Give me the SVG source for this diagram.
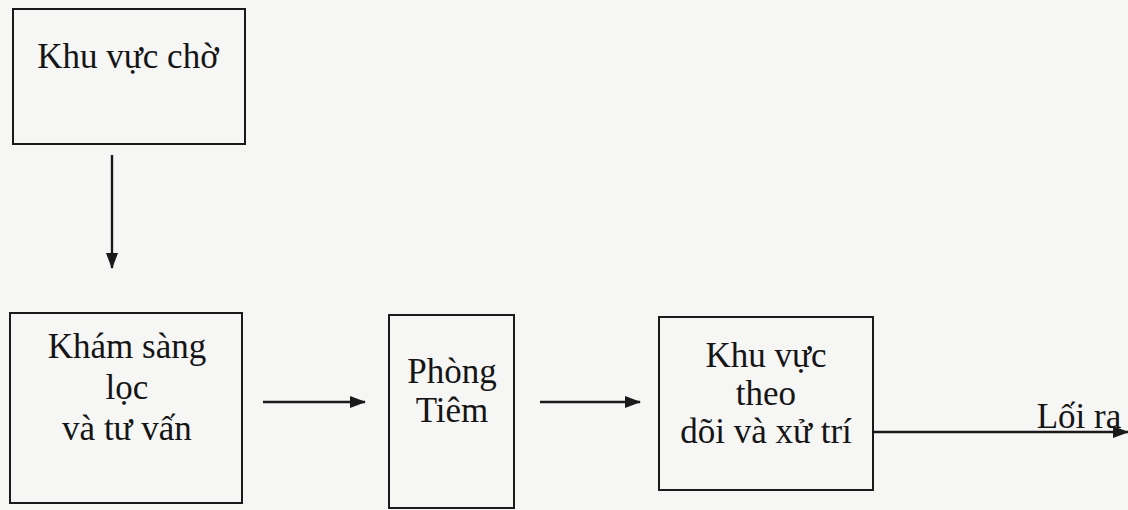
<svg xmlns="http://www.w3.org/2000/svg" width="1128" height="510" viewBox="0 0 1128 510">
<defs>
<style>
.box{fill:none;stroke:#1a1a1a;stroke-width:2}
.t{font-family:"Liberation Serif","Times New Roman",serif;font-size:35px;fill:#151515;text-anchor:middle}
.c{stroke:#1a1a1a;stroke-width:2.4;fill:none}
</style>
<marker id="ah" viewBox="0 0 16 12" refX="15" refY="6" markerWidth="16" markerHeight="12" markerUnits="userSpaceOnUse" orient="auto">
<path d="M0,0 L16,6 L0,12 z" fill="#1a1a1a"/>
</marker>
</defs>
<rect width="1128" height="510" fill="#f6f6f5"/>
<g id="khu-vuc-cho">
<rect class="box" x="13" y="9" width="232" height="135"/>
<text class="t" x="128" y="68">Khu vực chờ</text>
</g>
<g id="kham-sang-loc">
<rect class="box" x="10" y="313" width="232" height="190"/>
<text class="t" x="127" y="358">Khám sàng</text>
<text class="t" x="127" y="399">lọc</text>
<text class="t" x="127" y="440">và tư vấn</text>
</g>
<g id="phong-tiem">
<rect class="box" x="389" y="315" width="125" height="193"/>
<text class="t" x="452" y="383">Phòng</text>
<text class="t" x="452" y="422">Tiêm</text>
</g>
<g id="khu-vuc-theo-doi">
<rect class="box" x="659" y="317" width="214" height="173"/>
<text class="t" x="766" y="367">Khu vực</text>
<text class="t" x="766" y="405">theo</text>
<text class="t" x="766" y="443">dõi và xử trí</text>
</g>
<g id="loi-ra">
<text class="t" x="1079" y="428">Lối ra</text>
</g>
<g id="connectors">
<line class="c" x1="112" y1="155" x2="112" y2="268" marker-end="url(#ah)"/>
<line class="c" x1="263" y1="402" x2="365" y2="402" marker-end="url(#ah)"/>
<line class="c" x1="540" y1="402" x2="640" y2="402" marker-end="url(#ah)"/>
<line class="c" x1="873" y1="432" x2="1128" y2="432" marker-end="url(#ah)"/>
</g>
</svg>
